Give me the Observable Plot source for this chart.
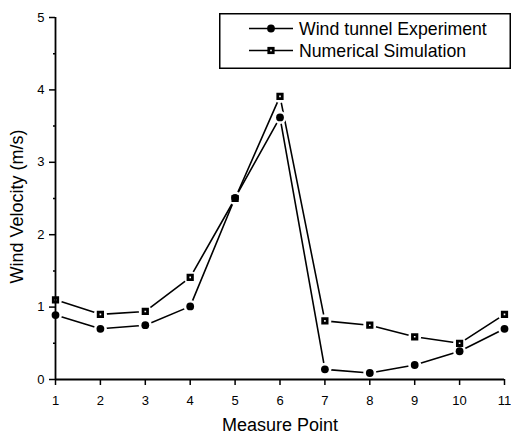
<!DOCTYPE html>
<html>
<head>
<meta charset="utf-8">
<script src="https://cdn.jsdelivr.net/npm/d3@7"></script>
<script src="https://cdn.jsdelivr.net/npm/@observablehq/plot@0.6"></script>
<style>
  html, body { margin: 0; padding: 0; background: white; }
  #wrap { position: relative; width: 511px; height: 435px; }
  #legend { position: absolute; left: 218.5px; top: 13px; }
</style>
</head>
<body>
<div id="wrap"></div>
<script>
const points = [1, 2, 3, 4, 5, 6, 7, 8, 9, 10, 11];
const windTunnel = [0.89, 0.70, 0.75, 1.01, 2.51, 3.62, 0.14, 0.09, 0.20, 0.39, 0.70];
const numerical = [1.10, 0.90, 0.94, 1.41, 2.50, 3.91, 0.81, 0.75, 0.59, 0.50, 0.90];
const seriesNames = ["Wind tunnel Experiment", "Numerical Simulation"];
const xTicks = [1, 2, 3, 4, 5, 6, 7, 8, 9, 10, 11];
const yTicks = [0, 1, 2, 3, 4, 5];
const yMinorTicks = [0.5, 1.5, 2.5, 3.5, 4.5];
const xTitle = "Measure Point";
const yTitle = "Wind Velocity (m/s)";

const expData = points.map((p, i) => ({point: p, value: windTunnel[i], series: seriesNames[0]}));
const numData = points.map((p, i) => ({point: p, value: numerical[i], series: seriesNames[1]}));
const all = expData.concat(numData);

const font = "'Liberation Sans', Arial, sans-serif";

const chart = Plot.plot({
  width: 511,
  height: 435,
  marginLeft: 55,
  marginRight: 7,
  marginTop: 17,
  marginBottom: 56,
  x: {domain: [1, 11]},
  y: {domain: [0, 5]},
  style: {fontFamily: font, fontSize: "13px", color: "black", background: "white"},
  marks: [
    Plot.lineY(all, {x: "point", y: "value", z: "series", stroke: "black", strokeWidth: 1.6}),
    Plot.dot(all, {x: "point", y: "value", r: 6.5, fill: "white", stroke: null}),
    Plot.dot(numData, {x: "point", y: "value", symbol: "square", r: 2.5, fill: "white", stroke: "black", strokeWidth: 2.8}),
    Plot.dot(expData, {x: "point", y: "value", symbol: "circle", r: 3.9, fill: "black", stroke: null}),
    Plot.ruleX([1], {stroke: "black", strokeWidth: 1.8}),
    Plot.ruleY([0], {stroke: "black", strokeWidth: 1.8}),
    Plot.axisX({ticks: xTicks, tickSize: 6, tickPadding: 10, strokeWidth: 1.5, fontSize: 13, tickFormat: d => String(d), label: null}),
    Plot.axisY({ticks: yTicks, tickSize: 6, tickPadding: 5, strokeWidth: 1.5, fontSize: 13, tickFormat: d => String(d), label: null}),
    Plot.axisY({ticks: yMinorTicks, tickSize: 2, strokeWidth: 1.5, tickFormat: () => "", label: null}),
    Plot.text([xTitle], {frameAnchor: "bottom", textAnchor: "middle", lineAnchor: "middle", dy: 46, fontSize: 18}),
    Plot.text([yTitle], {frameAnchor: "left", textAnchor: "middle", lineAnchor: "middle", dx: -38, dy: 8, rotate: -90, fontSize: 18})
  ]
});

const wrap = document.getElementById("wrap");
wrap.appendChild(chart);

// Legend (inside the plot area, top right)
const ns = "http://www.w3.org/2000/svg";
const lg = document.createElementNS(ns, "svg");
lg.setAttribute("id", "legend");
lg.setAttribute("width", 292);
lg.setAttribute("height", 56);
lg.style.fontFamily = font;
function el(tag, attrs, parent) {
  const e = document.createElementNS(ns, tag);
  for (const k in attrs) e.setAttribute(k, attrs[k]);
  (parent || lg).appendChild(e);
  return e;
}
el("rect", {x: 0.75, y: 0.75, width: 290.5, height: 54.5, fill: "white", stroke: "black", "stroke-width": 1.5});
const rows = [15.5, 37.5];
seriesNames.forEach((name, i) => {
  const cy = rows[i];
  el("line", {x1: 30, x2: 74, y1: cy, y2: cy, stroke: "black", "stroke-width": 1.6});
  if (i === 0) {
    el("circle", {cx: 52, cy: cy, r: 3.9, fill: "black"});
  } else {
    el("rect", {x: 52 - 2.2, y: cy - 2.2, width: 4.4, height: 4.4, fill: "white", stroke: "black", "stroke-width": 2.8});
  }
  const t = el("text", {x: 80, y: cy + 6, "font-size": 17.7, fill: "black"});
  t.textContent = name;
});
wrap.appendChild(lg);
</script>
</body>
</html>
